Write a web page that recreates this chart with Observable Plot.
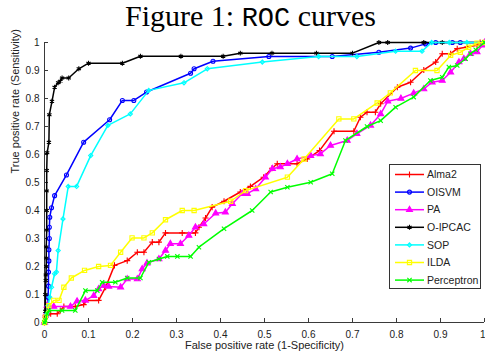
<!DOCTYPE html>
<html>
<head>
<meta charset="utf-8">
<script src="https://cdn.jsdelivr.net/npm/d3@7"></script>
<script src="https://cdn.jsdelivr.net/npm/@observablehq/plot@0.6"></script>
<style>
  body { margin: 0; background: #fff; }
  #wrap { position: relative; width: 485px; height: 354px; overflow: hidden; background: #fff; }
  #chart { position: absolute; left: 0; top: 0; }
  #title { position: absolute; left: 8px; top: 1px; width: 485px; text-align: center;
           font-family: "Liberation Serif", "DejaVu Serif", serif; font-size: 30px; line-height: 30px; color: #000; white-space: nowrap; }
  #title .tt { font-family: "Liberation Mono", "DejaVu Sans Mono", monospace; font-size: 27px; }
  #legend { position: absolute; left: 389px; top: 164px; width: 92px; height: 125px; box-sizing: border-box;
            border: 1px solid #333; background: #fff; }
</style>
</head>
<body>
<div id="wrap">
  <div id="chart"></div>
  <div id="title">Figure 1: <span class="tt">ROC</span> curves</div>
  <div id="legend"></div>
</div>
<script>
// ---- data: [false positive rate, true positive rate] ----
const alma2 = [[0,0],[0.002,0.019],[0.014,0.031],[0.029,0.031],[0.036,0.043],[0.044,0.057],[0.07,0.057],[0.089,0.064],[0.093,0.079],[0.123,0.079],[0.139,0.126],[0.159,0.204],[0.188,0.221],[0.211,0.251],[0.226,0.251],[0.245,0.287],[0.26,0.287],[0.275,0.32],[0.313,0.32],[0.343,0.32],[0.351,0.34],[0.366,0.373],[0.381,0.412],[0.408,0.433],[0.445,0.466],[0.468,0.486],[0.498,0.519],[0.517,0.551],[0.529,0.567],[0.574,0.567],[0.597,0.584],[0.625,0.614],[0.658,0.683],[0.703,0.683],[0.718,0.733],[0.733,0.751],[0.752,0.751],[0.764,0.781],[0.802,0.84],[0.832,0.858],[0.862,0.902],[0.889,0.93],[0.904,0.96],[0.923,0.96],[0.938,0.978],[0.961,0.984],[0.983,0.99],[0.99,1],[1,1]];
const oisvm = [[0,0],[0.003,0.02],[0.006,0.04],[0.008,0.055],[0.008,0.09],[0.009,0.13],[0.009,0.18],[0.01,0.22],[0.01,0.26],[0.011,0.3],[0.011,0.34],[0.012,0.376],[0.016,0.41],[0.023,0.453],[0.05,0.527],[0.089,0.644],[0.148,0.724],[0.177,0.793],[0.203,0.793],[0.232,0.823],[0.332,0.89],[0.34,0.906],[0.383,0.933],[0.51,0.95],[0.654,0.95],[0.76,0.965],[0.832,0.98],[0.866,0.995],[0.889,1],[0.927,1],[0.945,1],[1,1]];
const pa = [[0,0],[0.003,0.03],[0.006,0.061],[0.021,0.057],[0.059,0.057],[0.074,0.076],[0.093,0.079],[0.112,0.096],[0.123,0.12],[0.135,0.132],[0.146,0.129],[0.173,0.126],[0.188,0.155],[0.211,0.155],[0.222,0.191],[0.233,0.212],[0.26,0.227],[0.275,0.257],[0.286,0.281],[0.309,0.281],[0.328,0.311],[0.343,0.34],[0.362,0.352],[0.389,0.39],[0.411,0.394],[0.427,0.424],[0.449,0.46],[0.461,0.46],[0.48,0.477],[0.502,0.519],[0.518,0.549],[0.536,0.555],[0.552,0.567],[0.574,0.584],[0.605,0.596],[0.627,0.602],[0.65,0.632],[0.688,0.65],[0.71,0.674],[0.741,0.704],[0.764,0.745],[0.78,0.79],[0.81,0.8],[0.839,0.819],[0.862,0.834],[0.881,0.858],[0.904,0.864],[0.923,0.894],[0.942,0.93],[0.953,0.942],[0.968,0.96],[0.983,0.966],[0.995,0.99],[1,1]];
const oipcac = [[0,0],[0.002,0.04],[0.002,0.1],[0.003,0.15],[0.003,0.17],[0.004,0.2],[0.004,0.23],[0.004,0.27],[0.005,0.33],[0.005,0.4],[0.005,0.47],[0.005,0.543],[0.006,0.606],[0.01,0.644],[0.011,0.742],[0.017,0.79],[0.023,0.84],[0.031,0.856],[0.036,0.862],[0.04,0.873],[0.055,0.873],[0.078,0.906],[0.1,0.926],[0.177,0.926],[0.218,0.951],[0.31,0.951],[0.406,0.951],[0.445,0.962],[0.517,0.962],[0.618,0.962],[0.7,0.962],[0.76,1],[0.78,1],[0.862,1],[0.904,1],[1,1]];
const sop = [[0,0],[0.005,0.03],[0.008,0.06],[0.012,0.09],[0.016,0.126],[0.023,0.174],[0.027,0.18],[0.031,0.257],[0.042,0.37],[0.054,0.486],[0.073,0.486],[0.105,0.596],[0.144,0.704],[0.195,0.745],[0.237,0.829],[0.317,0.856],[0.37,0.906],[0.495,0.93],[0.623,0.95],[0.71,0.95],[0.798,0.969],[0.858,0.969],[0.88,1],[0.92,1],[0.96,1],[1,1]];
const ilda = [[0,0],[0.002,0.019],[0.01,0.06],[0.021,0.079],[0.033,0.079],[0.044,0.126],[0.061,0.159],[0.091,0.186],[0.123,0.2],[0.15,0.204],[0.173,0.251],[0.199,0.302],[0.226,0.302],[0.245,0.32],[0.275,0.367],[0.313,0.4],[0.34,0.4],[0.423,0.433],[0.457,0.471],[0.552,0.519],[0.59,0.584],[0.669,0.727],[0.703,0.727],[0.756,0.784],[0.786,0.82],[0.843,0.9],[0.892,0.9],[0.923,0.954],[0.945,0.965],[0.964,0.983],[0.983,0.998],[1,1]];
const perceptron = [[0,0],[0.002,0.007],[0.006,0.031],[0.01,0.043],[0.04,0.043],[0.07,0.043],[0.093,0.114],[0.12,0.114],[0.131,0.144],[0.161,0.144],[0.188,0.159],[0.218,0.159],[0.237,0.215],[0.26,0.227],[0.279,0.236],[0.302,0.236],[0.332,0.236],[0.351,0.269],[0.408,0.335],[0.472,0.4],[0.514,0.466],[0.552,0.483],[0.605,0.501],[0.654,0.531],[0.684,0.65],[0.733,0.7],[0.764,0.721],[0.798,0.769],[0.839,0.805],[0.877,0.864],[0.904,0.876],[0.919,0.912],[0.938,0.918],[0.957,0.942],[0.968,0.96],[0.98,0.974],[1,1]];

const seriesNames = ["Alma2", "OISVM", "PA", "O-IPCAC", "SOP", "ILDA", "Perceptron"];
const xTicks = [0, 0.1, 0.2, 0.3, 0.4, 0.5, 0.6, 0.7, 0.8, 0.9, 1];
const yTicks = [0, 0.1, 0.2, 0.3, 0.4, 0.5, 0.6, 0.7, 0.8, 0.9, 1];
const xLabel = "False positive rate (1-Specificity)";
const yLabel = "True positive rate (Sensitivity)";

// ---- styles ----
const seriesData = {"Alma2": alma2, "OISVM": oisvm, "PA": pa, "O-IPCAC": oipcac, "SOP": sop, "ILDA": ilda, "Perceptron": perceptron};
const styles = {
  "Alma2":      {color: "#ff0000", symbol: "plus",     filled: false, r: 2.1},
  "OISVM":      {color: "#0000ff", symbol: "circle",   filled: false, r: 2.0},
  "PA":         {color: "#ff00ff", symbol: "triangle", filled: true,  r: 2.2},
  "O-IPCAC":    {color: "#000000", symbol: "asterisk", filled: false, r: 2.3},
  "SOP":        {color: "#00ffff", symbol: "diamond2", filled: false, r: 1.9},
  "ILDA":       {color: "#ffff00", symbol: "square2",  filled: false, r: 2.7},
  "Perceptron": {color: "#00ff00", symbol: "times",    filled: false, r: 2.1}
};

const axisColor = "#3a3a3a";
const marks = [
  Plot.ruleX([0], {stroke: axisColor}),
  Plot.ruleY([0], {stroke: axisColor}),
  Plot.axisX(xTicks.slice(0, -1), {anchor: "bottom", tickSize: 0, tickPadding: 8, tickFormat: d => String(d), label: null}),
  Plot.axisX(xTicks.slice(-1), {anchor: "bottom", tickSize: 0, tickPadding: 8, tickFormat: d => String(d), label: null, textAnchor: "end", dx: 1}),
  Plot.axisX(xTicks, {anchor: "bottom", tickSize: -4, tickFormat: () => "", label: null, stroke: axisColor}),
  Plot.axisY(yTicks, {anchor: "left", tickSize: 0, tickPadding: 5, tickFormat: d => String(d), label: null}),
  Plot.axisY(yTicks, {anchor: "left", tickSize: -4, tickFormat: () => "", label: null, stroke: axisColor}),
  Plot.text([xLabel], {frameAnchor: "bottom", dy: 26, fontSize: 11, fill: "#222"}),
  Plot.text([yLabel], {frameAnchor: "left", rotate: -90, dx: -29, dy: -9, fontSize: 11, fill: "#222"})
];
for (const name of seriesNames) {
  const s = styles[name], data = seriesData[name];
  marks.push(Plot.line(data, {x: d => d[0], y: d => d[1], stroke: s.color, strokeWidth: 1.5}));
  marks.push(Plot.dot(data, {x: d => d[0], y: d => d[1], symbol: s.symbol, r: s.r,
    stroke: s.color, fill: s.filled ? s.color : "none", strokeWidth: 1.1}));
}

const chart = Plot.plot({
  width: 485, height: 354,
  marginLeft: 44, marginRight: 1, marginTop: 42, marginBottom: 32,
  x: {domain: [0, 1], axis: null},
  y: {domain: [0, 1], axis: null},
  style: {fontFamily: "'Liberation Sans', Arial, sans-serif", fontSize: "10px", color: "#222", background: "#fff", overflow: "visible"},
  marks
});
document.getElementById("chart").appendChild(chart);

// ---- legend ----
const legend = d3.select("#legend").append("svg").attr("width", 90).attr("height", 123);
const symbolMap = {plus: d3.symbolPlus, circle: d3.symbolCircle, triangle: d3.symbolTriangle, asterisk: d3.symbolAsterisk,
  diamond2: d3.symbolDiamond2, square2: d3.symbolSquare2, times: d3.symbolTimes};
seriesNames.forEach((name, i) => {
  const s = styles[name];
  const g = legend.append("g").attr("transform", `translate(0,${9.5 + i * 17.6})`);
  g.append("line").attr("x1", 5).attr("x2", 34).attr("stroke", s.color).attr("stroke-width", 1.5);
  g.append("path").attr("transform", "translate(19.5,0)")
    .attr("d", d3.symbol(symbolMap[s.symbol], Math.PI * s.r * s.r)())
    .attr("stroke", s.color).attr("stroke-width", 1.1).attr("fill", s.filled ? s.color : "none");
  g.append("text").attr("x", 37).attr("y", 0).attr("dy", "0.35em")
    .attr("font-family", "'Liberation Sans', Arial, sans-serif").attr("font-size", "10.5px").attr("fill", "#222").text(name);
});
</script>
</body>
</html>
